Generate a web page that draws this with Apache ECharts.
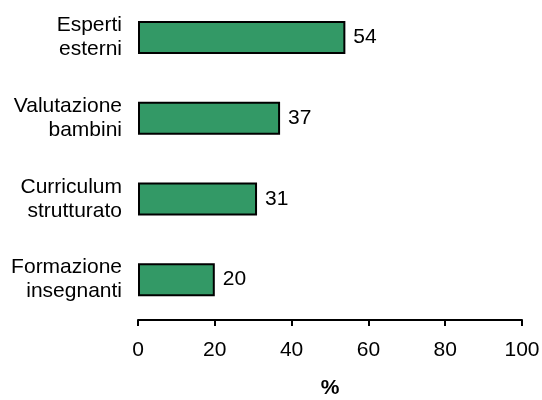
<!DOCTYPE html>
<html>
<head>
<meta charset="utf-8">
<script src="https://cdn.jsdelivr.net/npm/echarts@6/dist/echarts.min.js"></script>
<style>html,body{margin:0;padding:0;background:#fff}#c{width:542px;height:400px}</style>
</head>
<body>
<div id="c"></div>
<script>
var categories = ['Esperti\nesterni', 'Valutazione\nbambini', 'Curriculum\nstrutturato', 'Formazione\ninsegnanti'];
var values = [54, 37, 31, 20];
var xTicks = [0, 20, 40, 60, 80, 100];
var axisTitle = '%';

var chart = echarts.init(document.getElementById('c'), null, {renderer: 'canvas'});
var font = 'Liberation Sans, Arial, sans-serif';
chart.setOption({
  animation: false,
  grid: {left: 138, right: 20, top: -3, bottom: 80, containLabel: false, outerBoundsMode: 'none'},
  xAxis: {
    type: 'value', min: xTicks[0], max: xTicks[xTicks.length - 1], interval: 20,
    name: axisTitle, nameLocation: 'middle', nameGap: 58,
    nameTextStyle: {fontFamily: font, fontSize: 21, fontWeight: 'bold', color: '#000'},
    axisLine: {show: true, lineStyle: {color: '#000', width: 2}},
    axisTick: {show: true, length: 6, lineStyle: {color: '#000', width: 2}},
    axisLabel: {fontFamily: font, fontSize: 21, color: '#000', margin: 20},
    splitLine: {show: false}
  },
  yAxis: {
    type: 'category', data: categories, inverse: true,
    axisLine: {show: false}, axisTick: {show: false},
    axisLabel: {fontFamily: font, fontSize: 21, color: '#000', margin: 16, lineHeight: 24, align: 'right'}
  },
  series: [{
    type: 'bar', data: values, barWidth: 33,
    itemStyle: {color: '#339966', borderColor: '#000', borderWidth: 2},
    label: {show: true, position: 'right', distance: 8, fontFamily: font, fontSize: 21, color: '#000'}
  }]
});
</script>
</body>
</html>
